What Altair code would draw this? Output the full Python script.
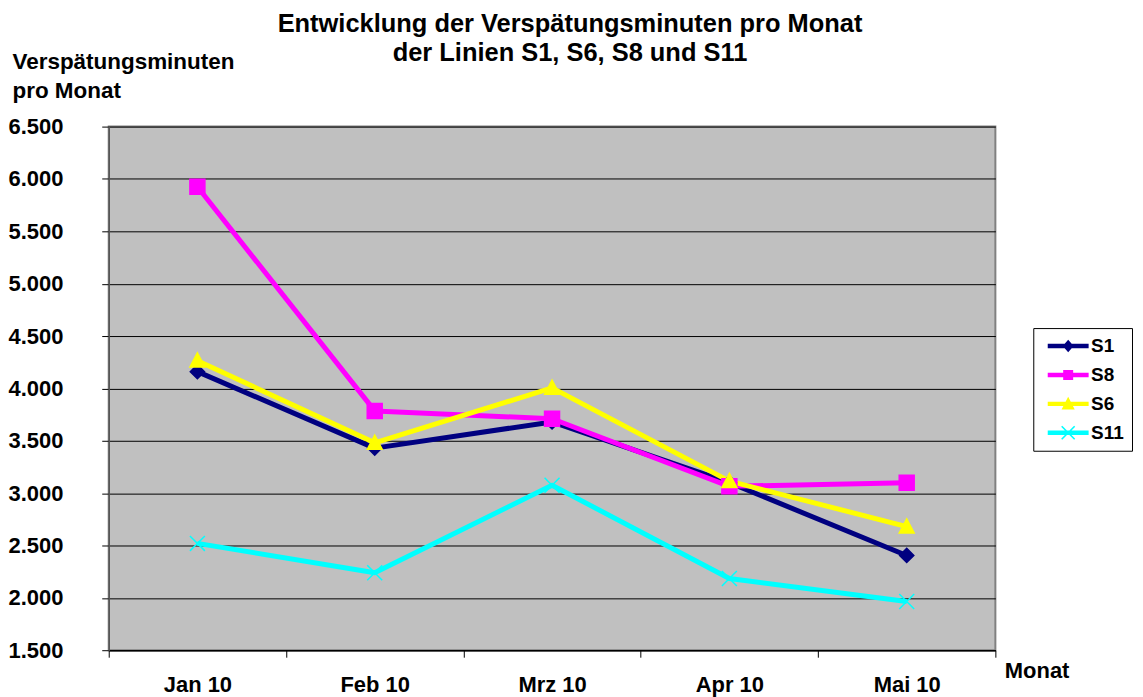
import altair as alt
import pandas as pd

FONT = "Liberation Sans"

months = ["Jan 10", "Feb 10", "Mrz 10", "Apr 10", "Mai 10"]
series_names = ["S1", "S8", "S6", "S11"]
s1 = [4160, 3430, 3680, 3100, 2405]
s8 = [5925, 3785, 3710, 3065, 3100]
s6 = [4265, 3480, 4005, 3115, 2680]
s11 = [2520, 2240, 3075, 2185, 1965]
series_colors = ["#000080", "#FF00FF", "#FFFF00", "#00FFFF"]
y_ticks = [1500, 2000, 2500, 3000, 3500, 4000, 4500, 5000, 5500, 6000, 6500]

title_lines = ["Entwicklung der Verspätungsminuten pro Monat", "der Linien S1, S6, S8 und S11"]
y_title = ["Verspätungsminuten", "pro Monat"]
x_title = "Monat"

# marker shapes on the plot
marker_paths = [
    "M0,-0.95L0.95,0L0,0.95L-0.95,0Z",          # diamond
    "M-1,-1H1V1H-1Z",                          # square
    "M0,-1.05L1,0.85H-1Z",                      # triangle
    "M-1,-1L1,1M-1,1L1,-1",                     # x
]
# legend symbols: line segment + marker (all filled, clockwise)
_line = "M-2.05,-0.22H2.05V0.22H-2.05Z"
legend_paths = [
    _line + "M0,-0.62L0.55,0L0,0.62L-0.55,0Z",
    _line + "M-0.5,-0.5H0.5V0.5H-0.5Z",
    _line + "M0,-0.72L0.66,0.56H-0.66Z",
    _line + "M-0.593,-0.707L0.707,0.593L0.593,0.707L-0.707,-0.593Z"
          + "M-0.593,0.707L-0.707,0.593L0.593,-0.707L0.707,-0.593Z",
]

values = {"S1": s1, "S8": s8, "S6": s6, "S11": s11}
rows = []
for name in series_names:
    for m, v in zip(months, values[name]):
        rows.append({"Monat": m, "Linie": name, "Minuten": v})
df = pd.DataFrame(rows)

x_enc = alt.X(
    "Monat:N",
    sort=months,
    scale=alt.Scale(type="band", domain=months, paddingInner=0, paddingOuter=0),
    axis=alt.Axis(
        title=x_title, tickBand="extent", grid=False, labelAngle=0,
        tickSize=7, tickColor="black", tickWidth=1,
        domainColor="black", domainWidth=1.5,
        labelPadding=17, labelFontSize=22, labelFont=FONT, labelFontWeight="bold", labelColor="black",
        titleFontSize=22, titleFont=FONT, titleFontWeight="bold", titleColor="black",
        titleAlign="left", titleBaseline="alphabetic", titleX=898, titleY=27,
    ),
)
y_enc = alt.Y(
    "Minuten:Q",
    scale=alt.Scale(domain=[1500, 6500], nice=False, zero=False),
    axis=alt.Axis(
        values=y_ticks,
        labelExpr="replace(format(datum.value, ',d'), ',', '.')",
        grid=True, gridColor="black", gridWidth=1, gridOpacity=1,
        tickSize=7, tickColor="black", tickWidth=1,
        domainColor="#555555", domainWidth=1.5,
        labelPadding=39, labelFontSize=22, labelFont=FONT, labelFontWeight="bold", labelColor="black",
        title=y_title, titleAngle=0, titleAlign="left", titleBaseline="alphabetic",
        titleX=-97, titleY=-58, titleFontSize=22.5, titleFont=FONT, titleFontWeight="bold",
        titleColor="black", titleLineHeight=29,
    ),
)

color_scale = alt.Scale(domain=series_names, range=series_colors)

lines = alt.Chart(df).mark_line(strokeWidth=5, strokeJoin="round").encode(
    x=x_enc, y=y_enc,
    color=alt.Color("Linie:N", scale=color_scale, legend=None),
    detail="Linie:N",
)

points = alt.Chart(df).mark_point(opacity=1, fillOpacity=1, strokeWidth=1.5, size=225).encode(
    x=x_enc, y=y_enc,
    fill=alt.Fill("Linie:N", scale=color_scale, legend=None),
    stroke=alt.Stroke("Linie:N", scale=color_scale, legend=None),
    shape=alt.Shape("Linie:N", scale=alt.Scale(domain=series_names, range=marker_paths), legend=None),
)

legend_props = dict(
    orient="none", legendX=927, legendY=202, title=None,
    strokeColor="black", fillColor="white", padding=8,
    symbolSize=400, symbolStrokeWidth=0, symbolOffset=17, labelOffset=13,
    labelFontSize=19, labelFont=FONT, labelFontWeight="bold", labelColor="black",
    rowPadding=9,
)

legend_layer = alt.Chart(df).transform_filter("false").mark_point(filled=True, opacity=1).encode(
    color=alt.Color("Linie:N", scale=color_scale, legend=alt.Legend(**legend_props)),
    shape=alt.Shape(
        "Linie:N", scale=alt.Scale(domain=series_names, range=legend_paths),
        legend=alt.Legend(**legend_props),
    ),
)

chart = alt.layer(lines, points, legend_layer).resolve_scale(
    color="independent", shape="independent"
).properties(
    width=889, height=525,
    title=alt.TitleParams(
        text=title_lines, fontSize=25.5, font=FONT, fontWeight="bold", color="black",
        anchor="middle", frame="group", dx=18, dy=20, lineHeight=29,
    ),
    autosize=alt.AutoSizeParams(type="none"),
    padding={"left": 101, "top": 118, "right": 140, "bottom": 48},
    background="white",
    view=alt.ViewBackground(fill="#C0C0C0", stroke="#808080", strokeWidth=2),
).configure_view(
    fill="#C0C0C0", stroke="#808080", strokeWidth=2,
)

chart.save("out.html", embed_options={"renderer": "svg", "actions": False})
